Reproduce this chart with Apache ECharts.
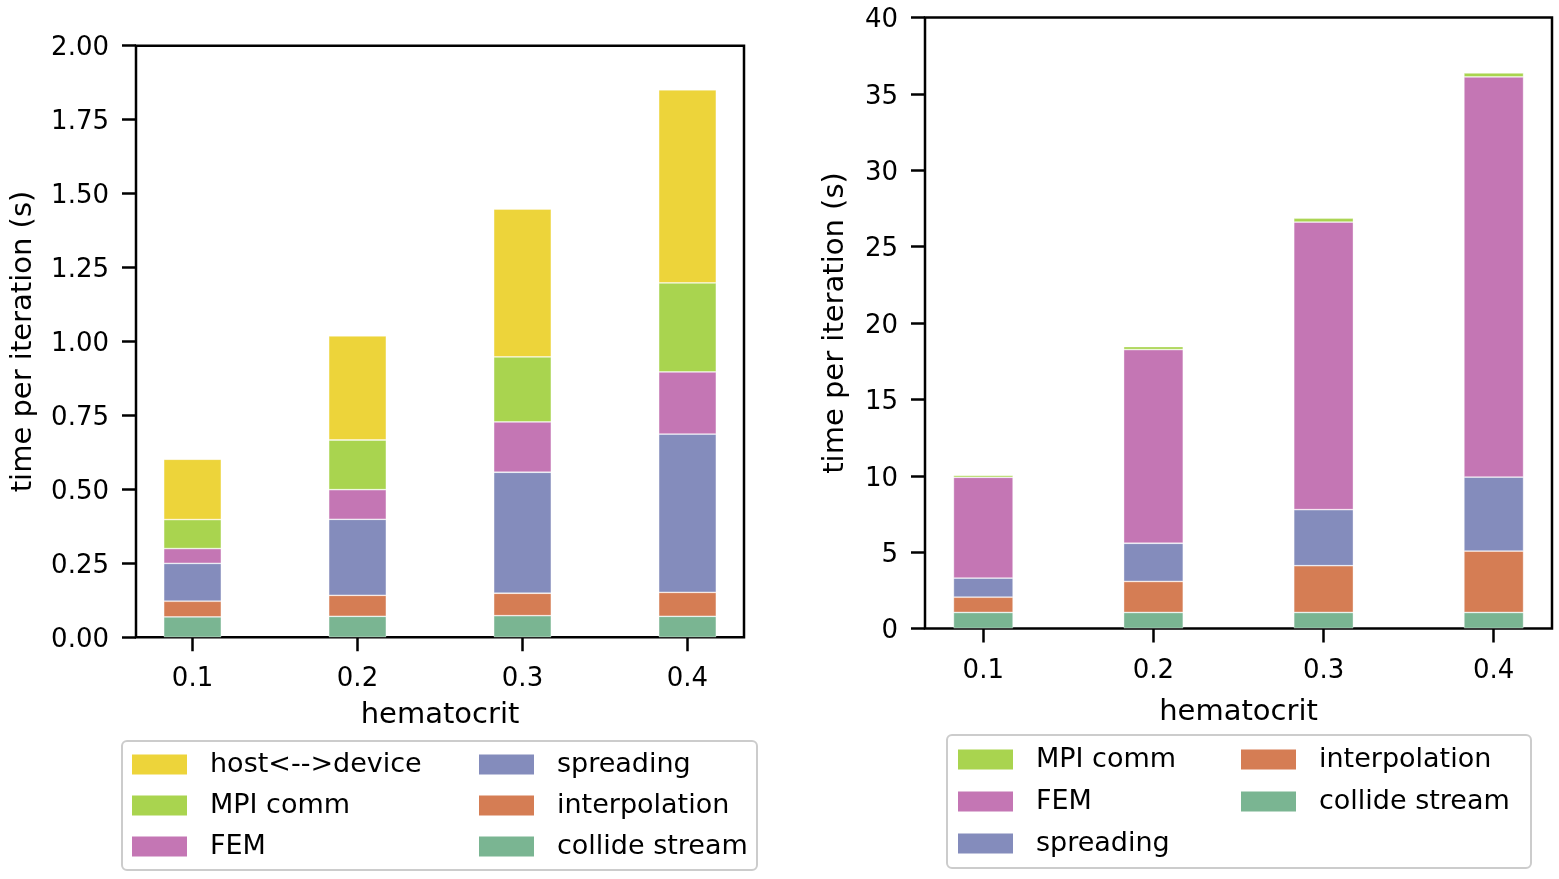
<!DOCTYPE html>
<html>
<head>
<meta charset="utf-8">
<script src="https://cdn.jsdelivr.net/npm/echarts@6/dist/echarts.min.js"></script>
<style>html,body{margin:0;padding:0;background:#fff}#c{width:1559px;height:879px}</style>
</head>
<body>
<div id="c"></div>
<script>
// ---- data ----
const categories = [0.1, 0.2, 0.3, 0.4];
const xTicks = [0.1, 0.2, 0.3, 0.4];
const yTicksLeft = [0, 0.25, 0.5, 0.75, 1.0, 1.25, 1.5, 1.75, 2.0];
const yTicksRight = [0, 5, 10, 15, 20, 25, 30, 35, 40];

// left panel (segment heights, bottom to top)
const collideL = [0.069, 0.071, 0.073, 0.071];
const interpL  = [0.053, 0.071, 0.076, 0.081];
const spreadL  = [0.128, 0.257, 0.409, 0.535];
const femL     = [0.050, 0.100, 0.170, 0.210];
const mpiL     = [0.098, 0.168, 0.220, 0.301];
const hostL    = [0.204, 0.352, 0.500, 0.653];

// right panel
const collideR = [1.05, 1.05, 1.05, 1.05];
const interpR  = [1.00, 2.03, 3.06, 4.02];
const spreadR  = [1.25, 2.50, 3.67, 4.84];
const femR     = [6.60, 12.68, 18.83, 26.20];
const mpiR     = [0.13, 0.20, 0.25, 0.26];

const names = {
  host: 'host<-->device', mpi: 'MPI comm', fem: 'FEM',
  spread: 'spreading', interp: 'interpolation', collide: 'collide stream'
};
const colors = {
  host: '#edd43a', mpi: '#a9d44f', fem: '#c476b4',
  spread: '#848cbc', interp: '#d57d54', collide: '#7ab592'
};

const FONT = 'DejaVu Sans';

// value first, hematocrit second, so the stack is computed on the value dimension
function pairs(arr) { return categories.map((c, i) => [arr[i], c]); }

function barSeries(key, arr, idx, stack, width) {
  return {
    type: 'bar', name: names[key], stack: stack,
    xAxisIndex: idx, yAxisIndex: idx,
    barWidth: width,
    dimensions: [{ name: 'time', type: 'float' }, { name: 'hct', type: 'float' }],
    encode: { x: 'hct', y: 'time' },
    data: pairs(arr),
    itemStyle: { color: colors[key], borderColor: 'rgba(255,255,255,0.45)', borderWidth: 0.8 },
    emphasis: { disabled: true }
  };
}

function xAxisDef(idx, margin, gap) {
  return {
    type: 'value', gridIndex: idx, min: 0.06575, max: 0.43425,
    name: 'hematocrit', nameLocation: 'middle', nameGap: gap,
    nameTextStyle: { fontFamily: FONT, fontSize: 29, color: '#000' },
    axisLine: { show: false },
    axisTick: { show: true, length: 14, lineStyle: { color: '#000', width: 2.5 }, customValues: xTicks },
    axisLabel: { show: true, margin: margin, fontFamily: FONT, fontSize: 26, color: '#000', customValues: xTicks,
      formatter: v => String(v) },
    splitLine: { show: false }
  };
}

function yAxisDef(idx, max, interval, fmt, gap) {
  return {
    type: 'value', gridIndex: idx, min: 0, max: max, interval: interval,
    name: 'time per iteration (s)', nameLocation: 'middle', nameGap: gap,
    nameTextStyle: { fontFamily: FONT, fontSize: 29, color: '#000' },
    axisLine: { show: false },
    axisTick: { show: true, length: 14, lineStyle: { color: '#000', width: 2.5 } },
    axisLabel: { margin: 27, fontFamily: FONT, fontSize: 26, color: '#000',
      formatter: v => '{t|' + fmt(v) + '}',
      rich: { t: { fontFamily: FONT, fontSize: 26, color: '#000', padding: [6, 0, 0, 0] } } },
    splitLine: { show: false }
  };
}

function legendDef(left, top, data, gap) {
  return {
    orient: 'vertical', left: left, top: top, padding: 0,
    itemWidth: 55, itemHeight: 20, itemGap: gap, icon: 'rect',
    data: data, selectedMode: false,
    textStyle: { fontFamily: FONT, fontSize: 27, color: '#000', padding: [0, 0, 0, 18] },
    itemStyle: { borderWidth: 0 }
  };
}

const chart = echarts.init(document.getElementById('c'), null, { renderer: 'canvas' });
chart.setOption({
  animation: false,
  backgroundColor: '#fff',
  grid: [
    { left: 136, top: 45.7, width: 608, height: 591.6, show: true, borderColor: '#000', borderWidth: 2.5, backgroundColor: 'transparent', containLabel: false },
    { left: 925, top: 17.5, width: 627, height: 611, show: true, borderColor: '#000', borderWidth: 2.5, backgroundColor: 'transparent', containLabel: false }
  ],
  xAxis: [xAxisDef(0, 29, 64), xAxisDef(1, 30, 69)],
  yAxis: [
    yAxisDef(0, 2, 0.25, v => v.toFixed(2), 98),
    yAxisDef(1, 40, 5, v => String(v), 75)
  ],
  legend: [
    legendDef(132, 751, [names.host, names.mpi, names.fem], 14),
    legendDef(479, 751, [names.spread, names.interp, names.collide], 14),
    legendDef(958, 746, [names.mpi, names.fem, names.spread], 15),
    legendDef(1241, 746, [names.interp, names.collide], 15)
  ],
  graphic: [
    { type: 'rect', shape: { x: 122, y: 741, width: 635, height: 129, r: 5 }, style: { fill: 'none', stroke: '#cccccc', lineWidth: 2 }, silent: true },
    { type: 'rect', shape: { x: 947, y: 735, width: 584, height: 133, r: 5 }, style: { fill: 'none', stroke: '#cccccc', lineWidth: 2 }, silent: true }
  ],
  series: [
    barSeries('collide', collideL, 0, 'L', 57.7),
    barSeries('interp', interpL, 0, 'L', 57.7),
    barSeries('spread', spreadL, 0, 'L', 57.7),
    barSeries('fem', femL, 0, 'L', 57.7),
    barSeries('mpi', mpiL, 0, 'L', 57.7),
    barSeries('host', hostL, 0, 'L', 57.7),
    barSeries('collide', collideR, 1, 'R', 59.7),
    barSeries('interp', interpR, 1, 'R', 59.7),
    barSeries('spread', spreadR, 1, 'R', 59.7),
    barSeries('fem', femR, 1, 'R', 59.7),
    barSeries('mpi', mpiR, 1, 'R', 59.7)
  ]
});
</script>
</body>
</html>
